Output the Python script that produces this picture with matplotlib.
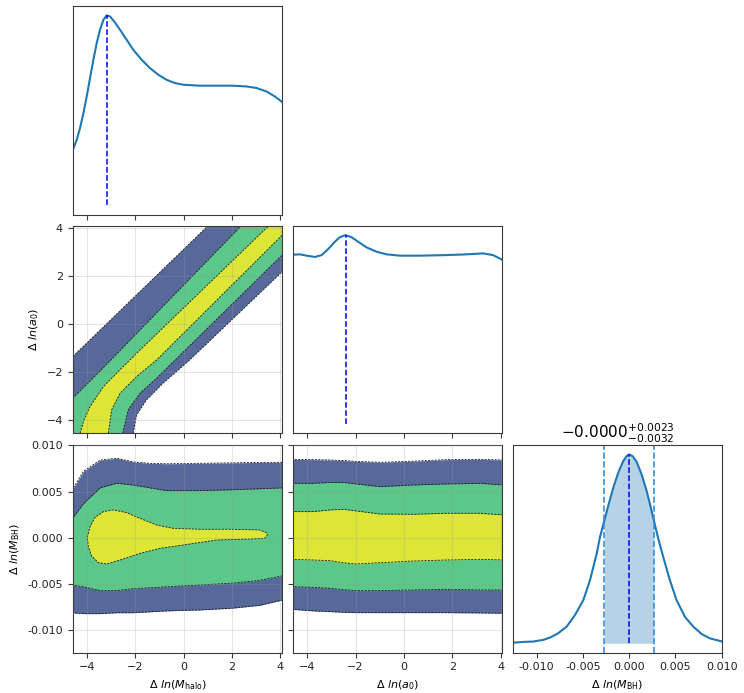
import matplotlib.pyplot as plt
import numpy as np

# ---------------- data ----------------
# 1D marginal of Delta ln(M_halo)
mh_x = [-4.607, -4.441, -4.302, -4.164, -4.026, -3.888, -3.749, -3.611, -3.473, -3.334,
        -3.196, -3.058, -2.850, -2.643, -2.366, -2.089, -1.744, -1.398, -1.052, -0.706,
        -0.360, -0.015, 0.677, 1.368, 2.060, 2.613, 3.028, 3.443, 3.789, 4.107]
mh_pdf = [0.290, 0.346, 0.408, 0.486, 0.574, 0.670, 0.767, 0.855, 0.925, 0.977,
          1.0, 0.995, 0.963, 0.925, 0.872, 0.819, 0.767, 0.723, 0.688, 0.661,
          0.644, 0.635, 0.630, 0.630, 0.630, 0.626, 0.618, 0.600, 0.574, 0.544]
mh_peak = -3.20

# 1D marginal of Delta ln(a0)
a0_x = [-4.605, -4.302, -4.026, -3.682, -3.406, -3.131, -2.855, -2.649, -2.415, -2.167,
        -1.891, -1.547, -1.133, -0.720, -0.169, 0.657, 1.759, 2.586, 3.274, 3.687, 4.059]
a0_pdf = [0.896, 0.898, 0.891, 0.884, 0.894, 0.926, 0.965, 0.989, 1.0, 0.989,
          0.965, 0.935, 0.912, 0.898, 0.891, 0.891, 0.894, 0.898, 0.903, 0.894, 0.870]
a0_peak = -2.41

# 1D marginal of Delta ln(M_BH)
bh_x = [-0.01261, -0.01146, -0.01038, -0.00930, -0.00857, -0.00768, -0.00677, -0.00587,
        -0.00497, -0.00425, -0.00352, -0.00317, -0.00270, -0.00227, -0.00173, -0.00119,
        -0.00065, -0.00029, 0.0, 0.00037, 0.00080, 0.00134, 0.00188, 0.00224, 0.00267,
        0.00314, 0.00368, 0.00440, 0.00512, 0.00602, 0.00692, 0.00783, 0.00872, 0.01006]
bh_pdf = [0.003, 0.007, 0.009, 0.018, 0.030, 0.053, 0.088, 0.149,
          0.228, 0.333, 0.474, 0.561, 0.649, 0.728, 0.824, 0.903,
          0.965, 0.991, 1.0, 0.991, 0.961, 0.894, 0.807, 0.737, 0.649,
          0.553, 0.456, 0.333, 0.228, 0.140, 0.088, 0.049, 0.026, 0.009]
bh_peak = 0.0
bh_lo, bh_hi = -0.00270, 0.00267
bh_title = r"$-0.0000^{+0.0023}_{-0.0032}$"

# 2D M_halo vs a0: contour edges (upper-left and lower-right sides of each band)
ul_blue_x = [-5.0, -4.61, -2.09, 1.02, 1.5]
ul_blue_y = [-1.74, -1.36, 1.09, 4.11, 4.58]
lr_blue_x = [-2.10, -2.09, -1.95, -1.54, -0.85, 0.26, 4.11, 4.6]
lr_blue_y = [-4.7, -4.56, -3.79, -3.17, -2.47, -1.50, 2.19, 2.66]
ul_green_x = [-5.0, -4.61, -3.33, 2.41, 2.9]
ul_green_y = [-3.5, -3.10, -1.82, 4.11, 4.6]
lr_green_x = [-2.55, -2.53, -2.30, -1.81, -1.12, 4.11, 4.6]
lr_green_y = [-4.7, -4.56, -3.58, -2.89, -2.26, 2.89, 3.37]
ul_yel_x = [-4.32, -4.30, -4.14, -3.89, -3.33, -2.64, -1.95, 3.55, 4.0]
ul_yel_y = [-4.7, -4.56, -4.0, -3.45, -2.61, -1.91, -1.22, 4.11, 4.55]
lr_yel_x = [-3.15, -3.13, -2.99, -2.64, -1.95, -1.12, 4.11, 4.6]
lr_yel_y = [-4.7, -4.56, -3.58, -2.89, -2.19, -1.50, 3.72, 4.2]

# 2D M_halo vs M_BH
mhb_x = [-4.65, -4.16, -3.47, -2.78, -2.09, -1.40, -0.71, 0.68, 2.06, 3.17, 4.15]
mhb_blue_hi = [0.0051, 0.0072, 0.0084, 0.0086, 0.0082, 0.00805, 0.0080, 0.00805, 0.0081, 0.00815, 0.00816]
mhb_blue_lo = [-0.0081, -0.0082, -0.0082, -0.0081, -0.0081, -0.0080, -0.0079, -0.0078, -0.0076, -0.0073, -0.0067]
mhb_green_hi = [0.0020, 0.0037, 0.0054, 0.0059, 0.0057, 0.0054, 0.0051, 0.0051, 0.0052, 0.0053, 0.0054]
mhb_green_lo = [-0.0051, -0.0053, -0.0057, -0.0057, -0.0055, -0.0054, -0.0053, -0.0051, -0.0049, -0.0046, -0.0041]
mhb_yel_x = [-4.00, -3.89, -3.68, -3.33, -2.92, -2.37, -1.81, -1.12, -0.43, 0.68, 2.06, 3.17,
             3.44, 3.49, 3.37, 2.75, 1.37, -0.02, -0.98, -1.81, -2.64, -3.20, -3.54, -3.82, -3.96]
mhb_yel_y = [0.00005, 0.00120, 0.00221, 0.00283, 0.00301, 0.00272, 0.00210, 0.00138, 0.00102,
             0.00092, 0.00092, 0.00084, 0.00056, 0.00030, -0.00006, -0.00013, -0.00024, -0.00078,
             -0.00114, -0.00168, -0.00240, -0.00283, -0.00269, -0.00197, -0.00096]

# 2D a0 vs M_BH
ab_x = [-4.65, -3.75, -3.06, -2.5, -1.96, -1.0, 0.38, 1.76, 3.14, 4.12]
ab_blue_hi = [0.00848, 0.00845, 0.00841, 0.00835, 0.00826, 0.00816, 0.00828, 0.00845, 0.00848, 0.00841]
ab_green_hi = [0.00589, 0.00589, 0.00598, 0.00598, 0.00582, 0.00553, 0.00571, 0.00582, 0.00589, 0.00571]
ab_yel_hi = [0.00283, 0.00283, 0.00301, 0.00308, 0.00290, 0.00257, 0.00254, 0.00265, 0.00265, 0.00247]
ab_yel_lo = [-0.00233, -0.00240, -0.00247, -0.00270, -0.00283, -0.00269, -0.00251, -0.00240, -0.00233, -0.00240]
ab_green_lo = [-0.00528, -0.00535, -0.00546, -0.00560, -0.00571, -0.00571, -0.00564, -0.00557, -0.00564, -0.00564]
ab_blue_lo = [-0.00773, -0.00790, -0.00798, -0.00805, -0.00809, -0.00809, -0.00809, -0.00809, -0.00812, -0.00816]

lab_mh = r"$\Delta\ ln(M_{\rm halo})$"
lab_a0 = r"$\Delta\ ln(a_0)$"
lab_bh = r"$\Delta\ ln(M_{\rm BH})$"
ticks_ln = [-4, -2, 0, 2, 4]
ticks_bh = [-0.010, -0.005, 0.000, 0.005, 0.010]

# ---------------- style ----------------
c_blue, c_green, c_yel = "#57689b", "#5bc788", "#dde637"
c_line = "#1f77b4"
edge = dict(color="#1a1a1a", lw=0.6, ls=(0, (2.5, 1.5)))

plt.rcParams["font.size"] = 8
plt.rcParams["axes.edgecolor"] = "#3a3a3a"
plt.rcParams["xtick.color"] = "#3a3a3a"
plt.rcParams["ytick.color"] = "#3a3a3a"
plt.rcParams["xtick.labelcolor"] = "#222222"
plt.rcParams["ytick.labelcolor"] = "#222222"

W, H = 744, 693
fig = plt.figure(figsize=(W / 100, H / 100), dpi=100)
lefts = [72.7, 292.7, 512.7]
tops = [6, 225.7, 445]
hgts = [208.7, 207.3, 207.7]
wid = 209.6


def add(col, row):
    return fig.add_axes([lefts[col] / W, (H - tops[row] - hgts[row]) / H,
                         wid / W, hgts[row] / H])


mh_lim = (-4.61, 4.11)
a0_lim = (-4.6, 4.07)
bh_lim = (-0.01242, 0.01003)
bh_xlim = (-0.0126, 0.01006)


def grid2d(ax):
    ax.grid(True, color="#9a9a9a", alpha=0.25, lw=0.8)
    ax.set_axisbelow(False)


def band(ax, ulx, uly, lrx, lry, color):
    # closed region between the two edges, corners pushed outside the axes
    px = list(ulx) + [6] + list(lrx)[::-1] + [-6]
    py = list(uly) + [6] + list(lry)[::-1] + [-6]
    ax.fill(px, py, fc=color, ec="none")
    ax.plot(ulx, uly, **edge)
    ax.plot(lrx, lry, **edge)


# top-left: M_halo marginal
ax = add(0, 0)
ax.plot(mh_x, mh_pdf, color=c_line, lw=1.5)
ax.plot([mh_peak, mh_peak], [0, 1], color="blue", ls="--", lw=1.1)
ax.set_xlim(mh_lim)
ax.set_ylim(-0.05, 1.05)
ax.set_xticks(ticks_ln)
ax.set_xticklabels([])
ax.set_yticks([])

# middle-left: M_halo vs a0
ax = add(0, 1)
band(ax, ul_blue_x, ul_blue_y, lr_blue_x, lr_blue_y, c_blue)
band(ax, ul_green_x, ul_green_y, lr_green_x, lr_green_y, c_green)
band(ax, ul_yel_x, ul_yel_y, lr_yel_x, lr_yel_y, c_yel)
ax.set_xlim(mh_lim)
ax.set_ylim(-4.55, 4.11)
ax.set_xticks(ticks_ln)
ax.set_xticklabels([])
ax.set_yticks(ticks_ln)
ax.set_ylabel(lab_a0)
grid2d(ax)

# middle-middle: a0 marginal
ax = add(1, 1)
ax.plot(a0_x, a0_pdf, color=c_line, lw=1.5)
ax.plot([a0_peak, a0_peak], [0, 1], color="blue", ls="--", lw=1.1)
ax.set_xlim(a0_lim)
ax.set_ylim(-0.05, 1.05)
ax.set_xticks(ticks_ln)
ax.set_xticklabels([])
ax.set_yticks([])

# bottom-left: M_halo vs M_BH
ax = add(0, 2)
ax.fill_between(mhb_x, mhb_blue_lo, mhb_blue_hi, color=c_blue, lw=0)
ax.fill_between(mhb_x, mhb_green_lo, mhb_green_hi, color=c_green, lw=0)
ax.fill(mhb_yel_x, mhb_yel_y, fc=c_yel, ec="none")
for yy in (mhb_blue_lo, mhb_blue_hi, mhb_green_lo, mhb_green_hi):
    ax.plot(mhb_x, yy, **edge)
ax.plot(mhb_yel_x + mhb_yel_x[:1], mhb_yel_y + mhb_yel_y[:1], **edge)
ax.set_xlim(mh_lim)
ax.set_ylim(bh_lim)
ax.set_xticks(ticks_ln)
ax.set_yticks(ticks_bh)
ax.set_yticklabels(["%.3f" % t for t in ticks_bh])
ax.set_xlabel(lab_mh)
ax.set_ylabel(lab_bh)
grid2d(ax)

# bottom-middle: a0 vs M_BH
ax = add(1, 2)
ax.fill_between(ab_x, ab_blue_lo, ab_blue_hi, color=c_blue, lw=0)
ax.fill_between(ab_x, ab_green_lo, ab_green_hi, color=c_green, lw=0)
ax.fill_between(ab_x, ab_yel_lo, ab_yel_hi, color=c_yel, lw=0)
for yy in (ab_blue_lo, ab_blue_hi, ab_green_lo, ab_green_hi, ab_yel_lo, ab_yel_hi):
    ax.plot(ab_x, yy, **edge)
ax.set_xlim(a0_lim)
ax.set_ylim(bh_lim)
ax.set_xticks(ticks_ln)
ax.set_yticks(ticks_bh)
ax.set_yticklabels([])
ax.set_xlabel(lab_a0)
grid2d(ax)

# bottom-right: M_BH marginal
ax = add(2, 2)
bx = np.array(bh_x)
by = np.array(bh_pdf)
m = (bx >= bh_lo - 1e-9) & (bx <= bh_hi + 1e-9)
ax.fill_between(bx[m], 0, by[m], color=c_line, alpha=0.33, lw=0)
ax.plot(bx, by, color=c_line, lw=1.5)
ax.axvline(bh_lo, color="#3b8ed6", ls="--", lw=1.2)
ax.axvline(bh_hi, color="#3b8ed6", ls="--", lw=1.2)
ax.plot([bh_peak, bh_peak], [0, 1], color="blue", ls="--", lw=1.1)
ax.set_xlim(bh_xlim)
ax.set_ylim(-0.05, 1.05)
ax.set_xticks(ticks_bh)
ax.set_xticklabels(["%.3f" % t for t in ticks_bh])
ax.set_yticks([])
ax.set_xlabel(lab_bh)
ax.set_title(bh_title, fontsize=11, pad=3)

fig.savefig("out.png", dpi=100)
